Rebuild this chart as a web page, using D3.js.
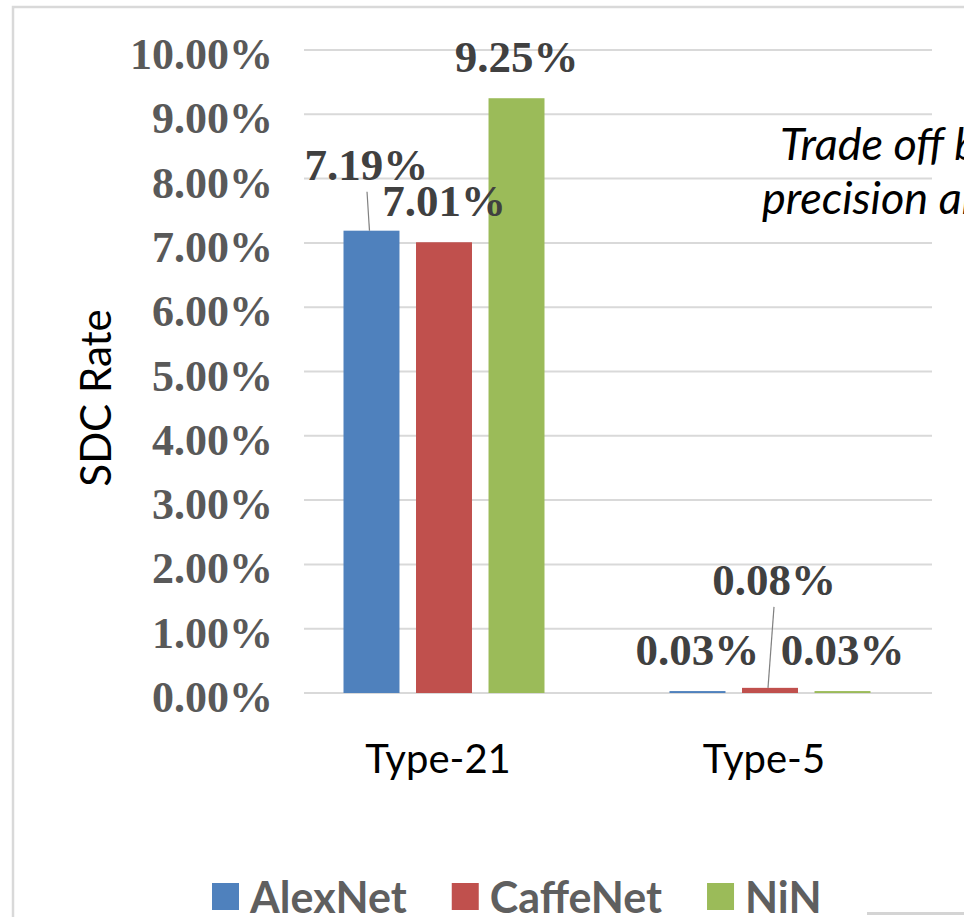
<!DOCTYPE html>
<html>
<head>
<meta charset="utf-8">
<script src="https://cdn.jsdelivr.net/npm/d3@7"></script>
<style>
  html, body { margin: 0; padding: 0; background: #fff; overflow: hidden; }
  svg { display: block; }
</style>
</head>
<body>
<svg id="chart" width="964" height="917"></svg>
<script>
// SDC rate per fault type and network
const categories = ["Type-21", "Type-5"];
const series = ["AlexNet", "CaffeNet", "NiN"];
const colors = ["#4f81bd", "#c0504d", "#9bbb59"];
const alexNet = [7.19, 0.03];
const caffeNet = [7.01, 0.08];
const nin = [9.25, 0.03];
const yTicks = [0, 1, 2, 3, 4, 5, 6, 7, 8, 9, 10];
const values = [alexNet, caffeNet, nin];

const svg = d3.select("#chart");
const W = 964, H = 917;

// outer frame
svg.append("rect")
  .attr("x", 13).attr("y", 7)
  .attr("width", W + 20).attr("height", H + 20)
  .attr("fill", "none").attr("stroke", "#d9d9d9").attr("stroke-width", 2.5);

svg.append("line")
  .attr("x1", 867).attr("x2", W).attr("y1", 913.5).attr("y2", 913.5)
  .attr("stroke", "#d4d4d4").attr("stroke-width", 3);

const y = d3.scaleLinear().domain([0, 10]).range([693, 50]);
const x0 = d3.scaleBand().domain(categories).range([281, 933]).padding(0);
const x1 = d3.scaleBand().domain(series).range([0, x0.bandwidth()])
  .paddingInner(0.228).paddingOuter(0.862);

const gridL = 304, gridR = 932;

// gridlines
svg.append("g").selectAll("line").data(yTicks).join("line")
  .attr("x1", gridL).attr("x2", gridR)
  .attr("y1", d => y(d)).attr("y2", d => y(d))
  .attr("stroke", "#d9d9d9").attr("stroke-width", 2);

// y tick labels
svg.append("g").selectAll("text").data(yTicks).join("text")
  .attr("x", 273).attr("y", d => y(d) + 19)
  .attr("text-anchor", "end")
  .attr("font-family", "'Liberation Serif', 'Times New Roman', serif")
  .attr("font-weight", "bold").attr("font-size", 44)
  .attr("fill", "#595959")
  .text(d => d.toFixed(2) + "%");

// bars
const flat = [];
categories.forEach((c, ci) => series.forEach((s, si) => {
  flat.push({ cat: c, ser: s, si, v: values[si][ci] });
}));

svg.append("g").selectAll("rect").data(flat).join("rect")
  .attr("x", d => x0(d.cat) + x1(d.ser))
  .attr("width", x1.bandwidth())
  .attr("y", d => y(d.v))
  .attr("height", d => y(0) - y(d.v))
  .attr("fill", d => colors[d.si]);

// data labels; a few are lifted and joined to their bar by a leader line
const labelShift = {
  "Type-21|AlexNet": [-5, -25],
  "Type-5|CaffeNet": [4, -67]
};
const labelG = svg.append("g");
flat.forEach(d => {
  const cx = x0(d.cat) + x1(d.ser) + x1.bandwidth() / 2;
  const top = y(d.v);
  const sh = labelShift[d.cat + "|" + d.ser] || [0, 0];
  const lx = cx + sh[0], ly = top - 26 + sh[1];
  if (sh[1] !== 0) {
    labelG.append("line")
      .attr("x1", cx - 2).attr("y1", top)
      .attr("x2", cx - 2 + sh[0] * 0.5 + (d.cat === "Type-5" ? 4 : 0)).attr("y2", ly + 12)
      .attr("stroke", "#808080").attr("stroke-width", 1.2);
  }
  labelG.append("text")
    .attr("x", lx).attr("y", ly)
    .attr("text-anchor", "middle")
    .attr("font-family", "'Liberation Serif', 'Times New Roman', serif")
    .attr("font-weight", "bold").attr("font-size", 45)
    .attr("fill", "#404040")
    .text(d.v.toFixed(2) + "%");
});

// category labels
svg.append("g").selectAll("text").data(categories).join("text")
  .attr("x", d => x0(d) + x0.bandwidth() / 2 - 6)
  .attr("y", 773)
  .attr("text-anchor", "middle")
  .attr("font-family", "Lato, 'Open Sans', sans-serif")
  .attr("font-size", 40).attr("fill", "#000")
  .text(d => d);

// axis title
svg.append("text")
  .attr("transform", "translate(111,398) rotate(-90)")
  .attr("text-anchor", "middle")
  .attr("font-family", "Lato, 'Open Sans', sans-serif")
  .attr("font-size", 42).attr("fill", "#000")
  .text("SDC Rate");

// annotation
const note = svg.append("text")
  .attr("font-family", "Lato, 'Open Sans', sans-serif")
  .attr("font-style", "italic").attr("font-size", 45).attr("fill", "#000");
note.append("tspan").attr("x", 780).attr("y", 160).text("Trade off between");
note.append("tspan").attr("x", 762).attr("y", 214).text("precision and accuracy");

// legend
const legend = svg.append("g");
let lx = 212;
series.forEach((s, i) => {
  legend.append("rect")
    .attr("x", lx).attr("y", 883).attr("width", 27).attr("height", 27)
    .attr("fill", colors[i]);
  const t = legend.append("text")
    .attr("x", lx + 38).attr("y", 913)
    .attr("font-family", "Lato, 'Open Sans', sans-serif")
    .attr("font-weight", "bold").attr("font-size", 43)
    .attr("fill", "#5f5f5f")
    .text(s);
  lx += 38 + t.node().getComputedTextLength() + 45;
});
</script>
</body>
</html>
